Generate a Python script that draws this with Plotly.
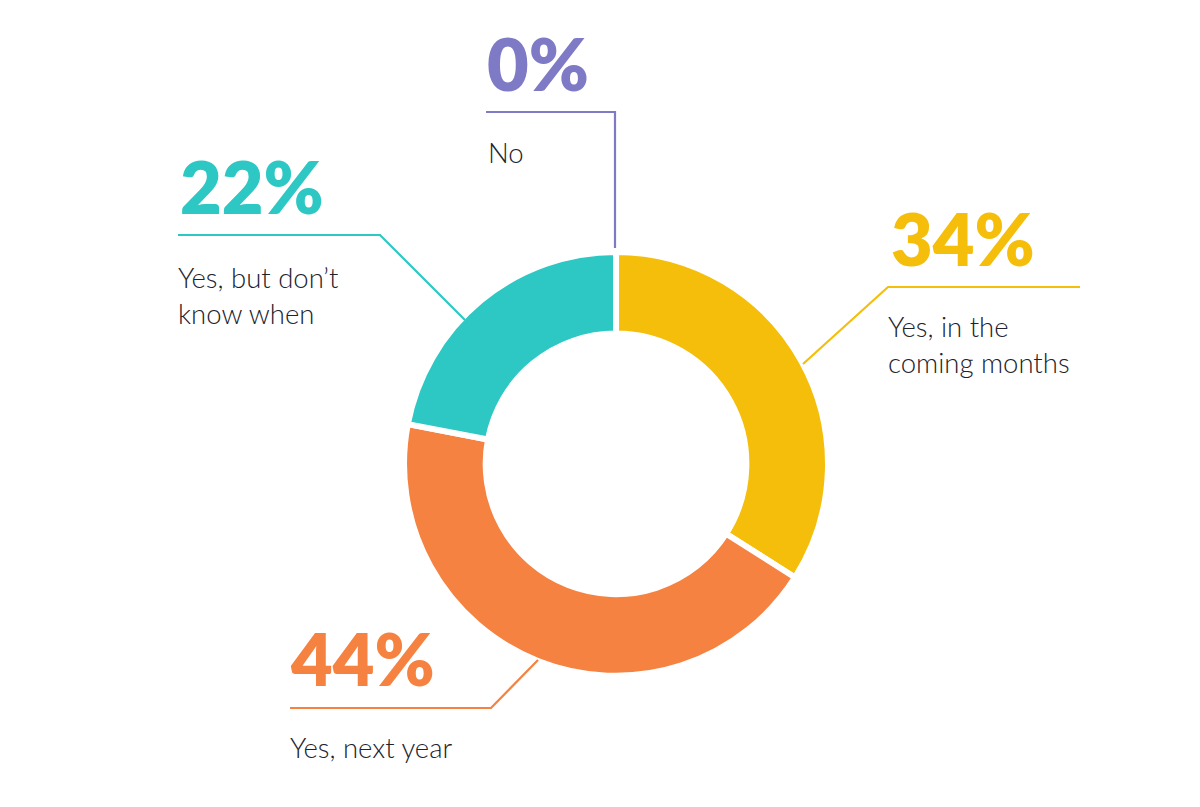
import plotly.graph_objects as go

# ---- data ----
categories = ["Yes, in the coming months", "Yes, next year", "Yes, but don't know when", "No"]
values = [34, 44, 22, 0]
label_lines = ["Yes, in the<br>coming months", "Yes, next year", "Yes, but don\u2019t<br>know when", "No"]
colors = ["#F4BE0A", "#F58240", "#2DC8C4", "#7E7AC6"]

W, H = 1200, 807


def px(x):
    return x / W


def py(y):
    return 1 - y / H


fig = go.Figure()
fig.add_trace(go.Pie(
    labels=categories,
    values=values,
    sort=False,
    direction="clockwise",
    rotation=0,
    hole=0.615,
    marker=dict(colors=colors, line=dict(color="white", width=6)),
    textinfo="none",
    hoverinfo="label+percent",
    showlegend=False,
    domain=dict(x=[0.3367, 0.69], y=[0.1625, 0.6879]),
))

# label layout (pixel positions): number pos, text pos, leader polyline
layout_pos = [
    dict(num=(889, 238), txt=(886, 345), line=[(1080, 287), (888, 287), (803, 364)]),
    dict(num=(288, 658), txt=(288, 747), line=[(290, 708), (491, 708), (538, 660)]),
    dict(num=(178, 186), txt=(176, 295), line=[(178, 235), (380, 235), (465, 320)]),
    dict(num=(485, 63), txt=(486, 152), line=[(486, 112), (615, 112), (615, 248)]),
]

shapes = []
annotations = []
for v, lab, c, p in zip(values, label_lines, colors, layout_pos):
    pts = p["line"]
    path = "M " + " L ".join(f"{px(x)},{py(y)}" for x, y in pts)
    shapes.append(dict(type="path", xref="paper", yref="paper", path=path,
                       line=dict(color=c, width=2.2)))
    annotations.append(dict(
        x=px(p["num"][0]), y=py(p["num"][1]), xref="paper", yref="paper",
        text=f"{v}%", showarrow=False, xanchor="left", yanchor="middle",
        font=dict(family="Lato", size=72, color=c, weight=800),
    ))
    annotations.append(dict(
        x=px(p["txt"][0]), y=py(p["txt"][1]), xref="paper", yref="paper",
        text=lab, showarrow=False, xanchor="left", yanchor="middle", align="left",
        font=dict(family="Lato", size=27.5, color="#22222C", weight=300),
    ))

fig.update_layout(
    width=W, height=H,
    margin=dict(l=0, r=0, t=0, b=0),
    paper_bgcolor="white",
    plot_bgcolor="white",
    shapes=shapes,
    annotations=annotations,
)

fig.write_html("out.html")
